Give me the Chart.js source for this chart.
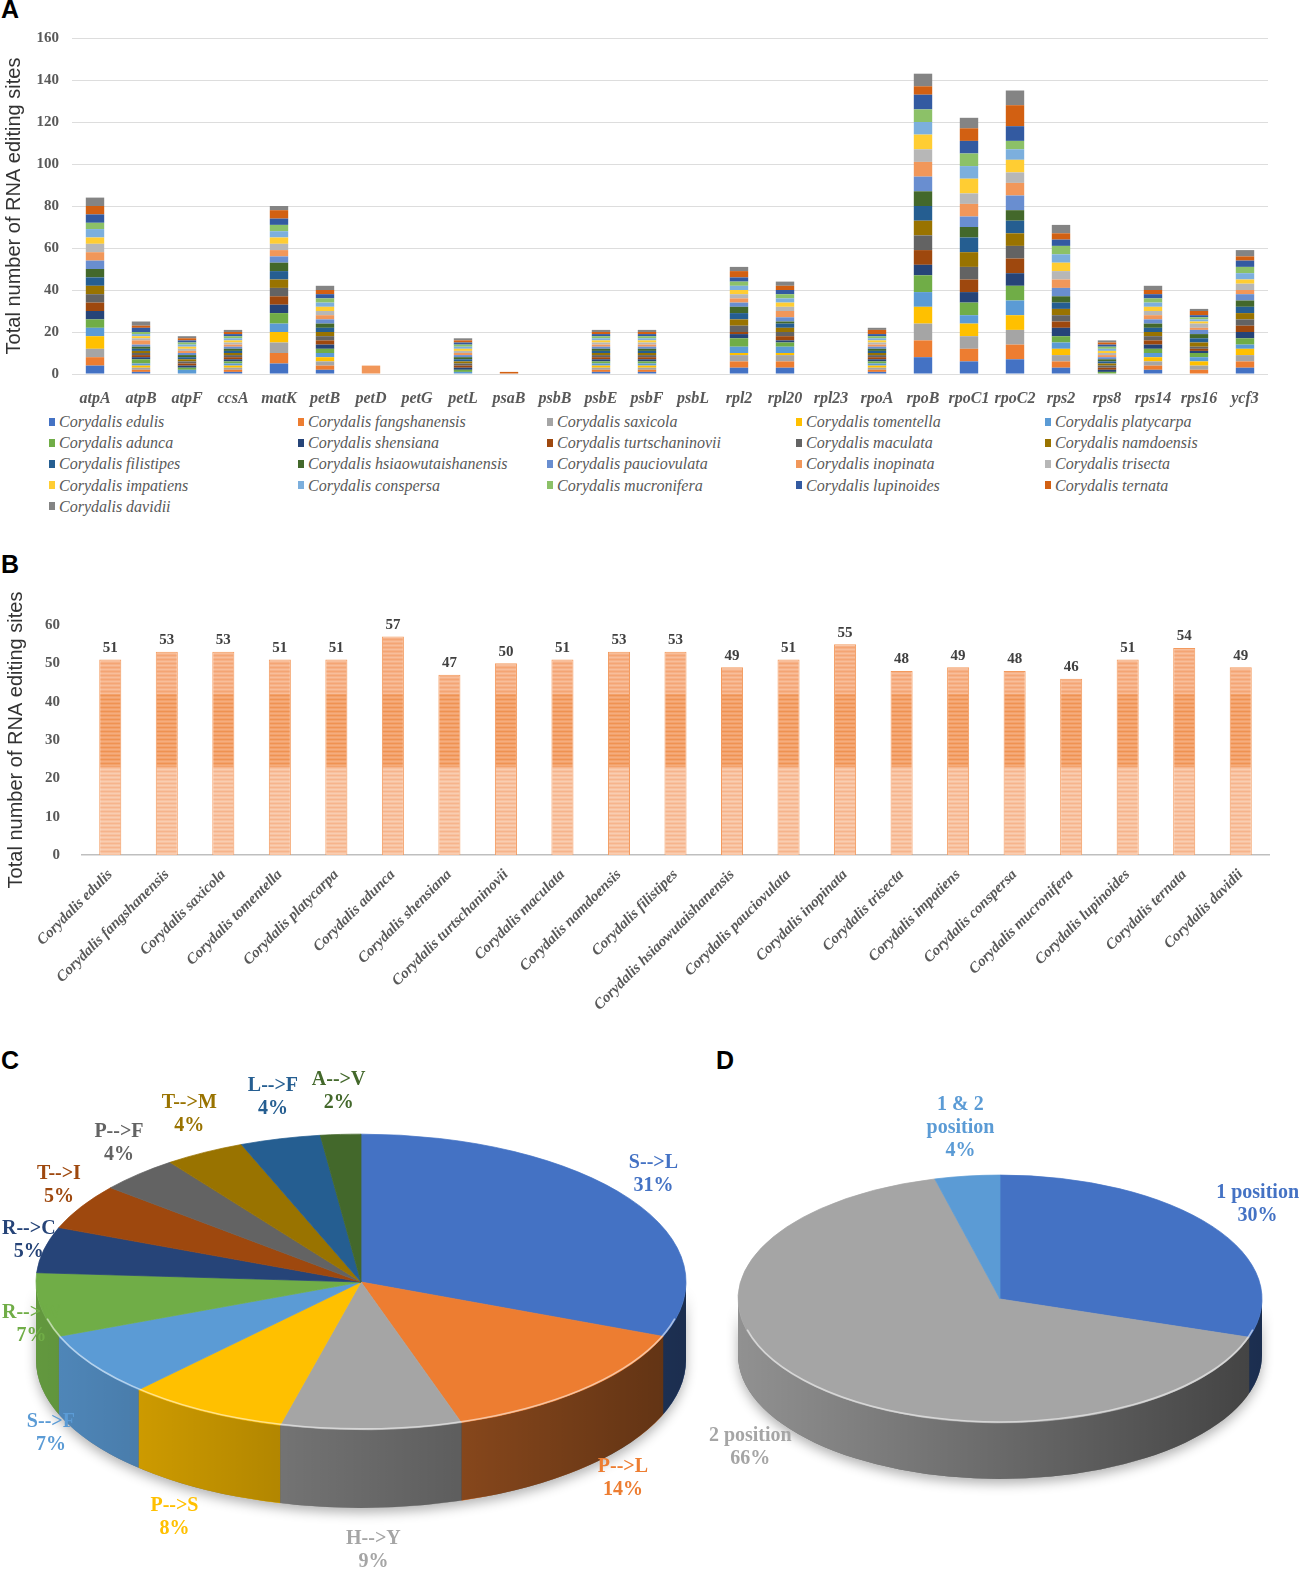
<!DOCTYPE html>
<html>
<head>
<meta charset="utf-8">
<script src="https://cdn.jsdelivr.net/npm/chart.js@4.4.0/dist/chart.umd.min.js"></script>
<style>
  html, body { margin: 0; padding: 0; background: #fff; }
  body { width: 1301px; height: 1588px; position: relative; overflow: hidden; }
  .tag { position: absolute; font: bold 25px "Liberation Sans", Arial, sans-serif; color: #000; }
  canvas { position: absolute; }
  #legendA { position: absolute; left: 49px; top: 411px; display: grid;
    grid-template-columns: repeat(5, 249px);
    font: italic 16px "Liberation Serif", "Times New Roman", serif; color: #595959; line-height: 21.2px; }
  #legendA .item { display: flex; align-items: center; white-space: nowrap; }
  #legendA .box { width: 6px; height: 8px; margin-right: 4px; flex: none; }
</style>
</head>
<body>
<div class="tag" style="left:1px;top:-5px">A</div>
<div class="tag" style="left:1px;top:550px">B</div>
<div class="tag" style="left:1px;top:1046px">C</div>
<div class="tag" style="left:716px;top:1046px">D</div>

<canvas id="chartA" width="1301" height="410" style="left:0;top:0"></canvas>
<div id="legendA"></div>
<canvas id="chartB" width="1301" height="480" style="left:0;top:555px"></canvas>
<canvas id="chartC" width="720" height="720" style="left:0;top:1040px"></canvas>
<canvas id="chartD" width="601" height="601" style="left:700px;top:1040px"></canvas>

<script>
const SERIF = '"Liberation Serif", "Times New Roman", serif';
const SANS = '"Liberation Sans", Arial, sans-serif';

// ---- panel A: editing sites per gene, stacked by species ----
const genes = ['atpA', 'atpB', 'atpF', 'ccsA', 'matK', 'petB', 'petD', 'petG', 'petL', 'psaB', 'psbB',
  'psbE', 'psbF', 'psbL', 'rpl2', 'rpl20', 'rpl23', 'rpoA', 'rpoB', 'rpoC1', 'rpoC2', 'rps2', 'rps8',
  'rps14', 'rps16', 'ycf3'];

const speciesNames = ['Corydalis edulis', 'Corydalis fangshanensis', 'Corydalis saxicola',
  'Corydalis tomentella', 'Corydalis platycarpa', 'Corydalis adunca', 'Corydalis shensiana',
  'Corydalis turtschaninovii', 'Corydalis maculata', 'Corydalis namdoensis', 'Corydalis filistipes',
  'Corydalis hsiaowutaishanensis', 'Corydalis pauciovulata', 'Corydalis inopinata', 'Corydalis trisecta',
  'Corydalis impatiens', 'Corydalis conspersa', 'Corydalis mucronifera', 'Corydalis lupinoides',
  'Corydalis ternata', 'Corydalis davidii'];

const speciesColors = ['#4472C4', '#ED7D31', '#A5A5A5', '#FFC000', '#5B9BD5', '#70AD47',
  '#264478', '#9E480E', '#636363', '#997300', '#255E91', '#43682B',
  '#698ED0', '#F1975A', '#B7B7B7', '#FFCD33', '#7CAFDD', '#8CC168',
  '#335AA1', '#D26012', '#848484'];

// one value per gene, same order as genes
const edulis        = [4,1,0,1,5,2,0,0,0,0,0,1,1,0,3,3,0,1,8,6,7,3,0,2,0,3];
const fangshanensis = [4,1,0,1,5,2,0,0,0,0,0,1,1,0,3,3,0,1,8,6,7,3,0,2,2,3];
const saxicola      = [4,1,0,1,5,2,0,0,0,0,0,1,1,0,3,3,0,1,8,6,7,3,0,2,2,3];
const tomentella    = [6,1,0,1,5,2,0,0,0,0,0,1,1,0,1,1,0,1,8,6,7,3,0,2,2,3];
const platycarpa    = [4,1,2,1,4,2,0,0,1,0,0,1,1,0,3,3,0,1,7,4,7,3,0,2,2,2];
const adunca        = [4,2,1,1,5,2,0,0,1,0,0,1,1,0,4,2,0,1,8,6,7,3,1,2,2,3];
const shensiana     = [4,1,1,1,4,2,0,0,1,0,0,1,1,0,2,1,0,1,5,5,6,4,1,2,1,3];
const turtschaninovii = [4,1,1,1,4,2,0,0,1,0,0,1,1,0,1,2,0,1,7,6,7,3,1,2,1,3];
const maculata      = [4,1,1,1,4,2,0,0,1,0,0,1,1,0,3,2,0,1,7,6,6,3,1,2,1,3];
const namdoensis    = [4,1,1,1,4,2,0,0,1,0,0,1,1,0,3,2,0,1,7,7,6,3,1,2,2,3];
const filistipes    = [4,1,1,1,4,2,0,0,1,0,0,1,1,0,3,2,0,1,7,7,6,3,1,2,2,3];
const hsiaowutaishanensis = [4,1,1,1,4,2,0,0,1,0,0,1,1,0,3,1,0,1,7,5,5,3,1,2,2,3];
const pauciovulata  = [4,1,1,1,3,2,0,0,1,0,0,1,1,0,2,2,0,1,7,5,7,4,1,2,2,3];
const inopinata     = [4,2,1,1,3,2,4,0,1,0,0,1,1,0,2,3,0,1,7,6,6,4,1,2,1,2];
const trisecta      = [4,1,1,1,3,2,0,0,1,0,0,1,1,0,2,2,0,1,6,5,5,4,1,2,2,3];
const impatiens     = [3,1,1,1,3,2,0,0,1,0,0,1,1,0,2,2,0,1,7,7,6,4,1,2,1,2];
const conspersa     = [4,1,1,1,3,2,0,0,1,0,0,1,1,0,2,2,0,1,6,6,5,4,1,2,1,3];
const mucronifera   = [3,1,1,1,3,2,0,0,1,0,0,1,1,0,2,2,0,1,6,6,4,4,1,2,1,3];
const lupinoides    = [4,2,1,1,3,2,0,0,1,0,0,1,1,0,2,2,0,1,7,6,7,3,1,2,1,3];
const ternata       = [4,1,1,1,4,2,0,0,1,1,0,1,1,0,3,2,0,2,4,6,10,3,1,2,2,2];
const davidii       = [4,2,1,1,2,2,0,0,1,0,0,1,1,0,2,2,0,1,6,5,7,4,1,2,1,3];

const speciesValues = [edulis, fangshanensis, saxicola, tomentella, platycarpa, adunca, shensiana,
  turtschaninovii, maculata, namdoensis, filistipes, hsiaowutaishanensis, pauciovulata, inopinata,
  trisecta, impatiens, conspersa, mucronifera, lupinoides, ternata, davidii];

// ---- panel B: total per species ----
const speciesTotals = [51, 53, 53, 51, 51, 57, 47, 50, 51, 53, 53, 49, 51, 55, 48, 49, 48, 46, 51, 54, 49];

// ---- panel C: amino acid changes (%) ----
const changeTypes = ['S-->L', 'P-->L', 'H-->Y', 'P-->S', 'S-->F', 'R-->W', 'R-->C', 'T-->I', 'P-->F',
  'T-->M', 'L-->F', 'A-->V'];
const changeShare = [31, 14, 9, 8, 7, 7, 5, 5, 4, 4, 4, 2];
const changeColors = ['#4472C4', '#ED7D31', '#A5A5A5', '#FFC000', '#5B9BD5', '#70AD47',
  '#264478', '#9E480E', '#636363', '#997300', '#255E91', '#43682B'];

// ---- panel D: codon position (%) ----
const positionTypes = ['1 position', '2 position', '1 & 2 position'];
const positionShare = [30, 66, 4];
const positionColors = ['#4472C4', '#A5A5A5', '#5B9BD5'];

const axisTitle = 'Total number of RNA editing sites';

// ---------- panel A ----------
const chartA = new Chart(document.getElementById('chartA'), {
  type: 'bar',
  data: {
    labels: genes,
    datasets: speciesNames.map((name, i) => ({
      label: name,
      data: speciesValues[i],
      backgroundColor: speciesColors[i],
      borderWidth: 0,
      barPercentage: 0.4,
      categoryPercentage: 1
    }))
  },
  options: {
    responsive: false,
    animation: false,
    events: [],
    layout: { padding: { top: 38, right: 33, bottom: 0, left: 0 } },
    scales: {
      x: {
        stacked: true,
        grid: { display: false },
        border: { display: false },
        ticks: {
          autoSkip: false, maxRotation: 0, padding: 7, color: '#595959',
          font: { family: SERIF, style: 'italic', weight: 'bold', size: 16 }
        },
        afterFit: s => { s.height = 36; }
      },
      y: {
        stacked: true,
        min: 0, max: 160,
        grid: { color: '#DDDDDD', drawTicks: false },
        border: { display: false },
        ticks: { stepSize: 20, padding: 13, color: '#595959', font: { family: SERIF, weight: 'bold', size: 15 } },
        title: { display: true, text: axisTitle, color: '#333', padding: { top: 2, bottom: 0 },
          font: { family: SANS, size: 20 } },
        afterFit: s => { s.width = 72; }
      }
    },
    plugins: { legend: { display: false }, tooltip: { enabled: false } }
  }
});

// legend laid out in five columns like the original
const legendEl = document.getElementById('legendA');
chartA.data.datasets.forEach(ds => {
  const item = document.createElement('div');
  item.className = 'item';
  const box = document.createElement('span');
  box.className = 'box';
  box.style.background = ds.backgroundColor;
  item.appendChild(box);
  item.appendChild(document.createTextNode(ds.label));
  legendEl.appendChild(item);
});

// ---------- panel B ----------
let stripeCache = null;
function stripeFill(chart) {
  const area = chart.chartArea;
  if (!area) return '#F7BD97';
  if (stripeCache) return stripeCache;
  const h = chart.height;
  const c = document.createElement('canvas');
  c.width = 8; c.height = h;
  const g = c.getContext('2d');
  const yScale = chart.scales.y;
  for (let y = 0; y < h; y++) {
    const v = yScale.getValueForPixel(y);
    let base = '#F8C2A0', dark = '#F6B48C', light = '#F9CDB1';
    if (v >= 23 && v <= 42) { base = '#F3A26C'; dark = '#EF9252'; light = '#F5AD7E'; }
    else if (v > 42) { base = '#F6B187'; dark = '#F4A574'; light = '#F8BE9A'; }
    g.fillStyle = y % 4 === 0 ? dark : (y % 4 === 2 ? light : base);
    g.fillRect(0, y, 8, 1);
  }
  stripeCache = chart.ctx.createPattern(c, 'repeat');
  return stripeCache;
}

const valueLabels = {
  id: 'valueLabels',
  afterDatasetsDraw(chart) {
    const ctx = chart.ctx;
    const ds = chart.data.datasets[0];
    ctx.save();
    ctx.font = 'bold 15px ' + SERIF;
    ctx.fillStyle = '#404040';
    ctx.textAlign = 'center';
    ctx.textBaseline = 'bottom';
    chart.getDatasetMeta(0).data.forEach((bar, i) => ctx.fillText(ds.data[i], bar.x, bar.y - 4));
    ctx.restore();
  }
};

new Chart(document.getElementById('chartB'), {
  type: 'bar',
  data: {
    labels: speciesNames,
    datasets: [{
      data: speciesTotals,
      backgroundColor: ctx => stripeFill(ctx.chart),
      borderColor: '#F39A5E',
      borderWidth: 1,
      barPercentage: 0.39,
      categoryPercentage: 1
    }]
  },
  options: {
    responsive: false,
    animation: false,
    events: [],
    layout: { padding: { top: 70, right: 32, bottom: 0, left: 0 } },
    scales: {
      x: {
        grid: { display: false },
        border: { color: '#BFBFBF', width: 1.5 },
        ticks: {
          autoSkip: false, minRotation: 45, maxRotation: 45, padding: 3, color: '#595959',
          font: { family: SERIF, style: 'italic', weight: 'bold', size: 15 }
        },
        afterFit: s => { s.height = 180; }
      },
      y: {
        min: 0, max: 60,
        grid: { display: false },
        border: { display: false },
        ticks: { stepSize: 10, padding: 14, color: '#595959', font: { family: SERIF, weight: 'bold', size: 15 } },
        title: { display: true, text: axisTitle, color: '#333', padding: { top: 4, bottom: 0 },
          font: { family: SANS, size: 20 } },
        afterFit: s => { s.width = 82; }
      }
    },
    plugins: { legend: { display: false }, tooltip: { enabled: false } }
  },
  plugins: [valueLabels]
});

// ---------- panels C and D: tilted pies with a side wall ----------
function wrapText(ctx, text, maxW) {
  const words = text.split(' ');
  const lines = [];
  let cur = '';
  words.forEach(w => {
    const test = cur ? cur + ' ' + w : w;
    if (cur && ctx.measureText(test).width > maxW) { lines.push(cur); cur = w; }
    else cur = test;
  });
  lines.push(cur);
  return lines;
}

const pie3d = {
  id: 'pie3d',
  beforeDatasetsDraw(chart, args, o) {
    const ctx = chart.ctx;
    const arcs = chart.getDatasetMeta(0).data;
    const colors = chart.data.datasets[0].backgroundColor;
    const rx = arcs[0].outerRadius, ry = rx * o.tilt;
    const wall = (a1, a2) => {
      ctx.beginPath();
      ctx.ellipse(o.cx, o.cy, rx, ry, 0, a1, a2);
      ctx.ellipse(o.cx, o.cy + o.depth, rx, ry, 0, a2, a1, true);
      ctx.closePath();
    };
    ctx.save();
    ctx.shadowColor = 'rgba(0,0,0,0.3)';
    ctx.shadowBlur = 12;
    ctx.shadowOffsetY = 5;
    wall(0, Math.PI);
    ctx.fillStyle = '#777';
    ctx.fill();
    ctx.restore();
    arcs.forEach((arc, i) => {
      const a1 = Math.max(arc.startAngle, 0), a2 = Math.min(arc.endAngle, Math.PI);
      if (a2 <= a1) return;
      wall(a1, a2);
      ctx.fillStyle = colors[i];
      ctx.fill();
    });
    const g = ctx.createLinearGradient(o.cx - rx, 0, o.cx + rx, 0);
    g.addColorStop(0, 'rgba(0,0,0,0.12)');
    g.addColorStop(1, 'rgba(0,0,0,0.6)');
    wall(0, Math.PI);
    ctx.fillStyle = g;
    ctx.fill();
    // squash the flat pie into the tilted top face
    ctx.save();
    ctx.translate(o.cx, o.cy);
    ctx.scale(1, o.tilt);
    ctx.translate(-arcs[0].x, -arcs[0].y);
  },
  afterDatasetsDraw(chart, args, o) {
    const ctx = chart.ctx;
    ctx.restore();
    const arcs = chart.getDatasetMeta(0).data;
    const ds = chart.data.datasets[0];
    const rx = arcs[0].outerRadius, ry = rx * o.tilt;
    ctx.save();
    ctx.strokeStyle = 'rgba(255,255,255,0.55)';
    ctx.lineWidth = 1.6;
    ctx.beginPath();
    ctx.ellipse(o.cx, o.cy, rx - 1, ry - 1, 0, 0.08 * Math.PI, 0.92 * Math.PI);
    ctx.stroke();

    ctx.font = 'bold 20px ' + SERIF;
    ctx.textAlign = 'center';
    ctx.textBaseline = 'middle';
    arcs.forEach((arc, i) => {
      const mid = (arc.startAngle + arc.endAngle) / 2;
      const c = Math.cos(mid), s = Math.sin(mid);
      const lines = wrapText(ctx, chart.data.labels[i], o.wrap);
      lines.push(ds.data[i] + '%');
      const w = Math.max(...lines.map(l => ctx.measureText(l).width));
      const h = lines.length * o.lineHeight;
      // labels in front of the pie are pushed out past the side wall
      const front = s > 0 ? o.depth * s : 0;
      let x = o.cx + (rx + o.gapX) * c + c * w / 2 + c * front * 0.5;
      const y = o.cy + (ry + o.gapY) * s + s * h / 2 + front;
      x = Math.min(Math.max(x, w / 2 + 2), chart.width - w / 2 - 2);
      ctx.fillStyle = ds.backgroundColor[i];
      lines.forEach((l, k) => ctx.fillText(l, x, y - h / 2 + o.lineHeight * (k + 0.5)));
    });
    ctx.restore();
  }
};

function pieConfig(labels, values, colors, radius, look) {
  return {
    type: 'pie',
    data: {
      labels: labels,
      datasets: [{ data: values, backgroundColor: colors, borderColor: colors, borderWidth: 1 }]
    },
    options: {
      responsive: false,
      animation: false,
      events: [],
      radius: radius,
      layout: { padding: 0 },
      plugins: { legend: { display: false }, tooltip: { enabled: false }, pie3d: look }
    },
    plugins: [pie3d]
  };
}

new Chart(document.getElementById('chartC'),
  pieConfig(changeTypes, changeShare, changeColors, 325,
    { cx: 361, cy: 242, tilt: 0.455, depth: 78, gapX: 4, gapY: 20, wrap: 100, lineHeight: 23 }));

new Chart(document.getElementById('chartD'),
  pieConfig(positionTypes, positionShare, positionColors, 262,
    { cx: 300, cy: 259, tilt: 0.473, depth: 56, gapX: 20, gapY: 14, wrap: 100, lineHeight: 23 }));
</script>
</body>
</html>
